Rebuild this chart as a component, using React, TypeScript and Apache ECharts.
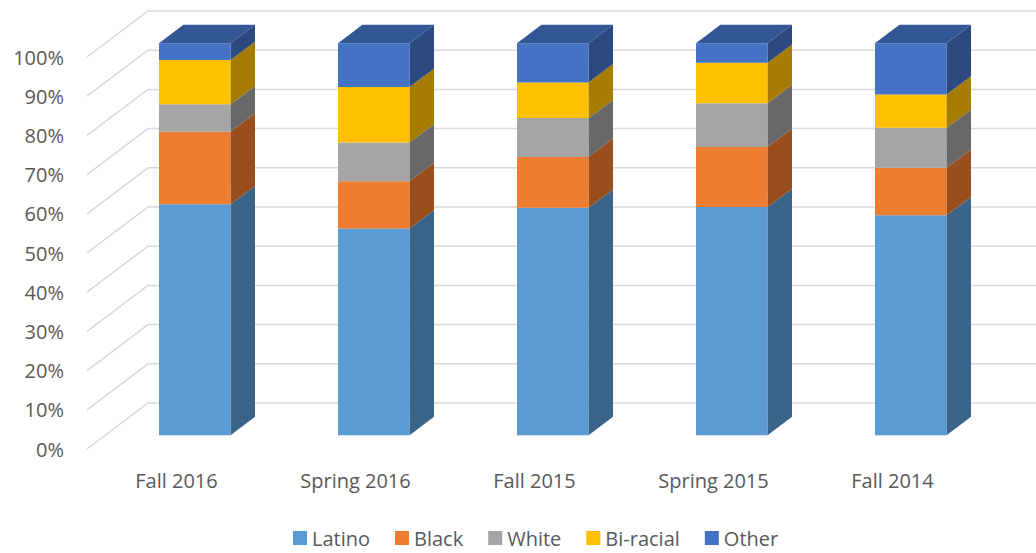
import React, { useEffect, useRef } from "react";
import * as echarts from "echarts";

const categories = ["Fall 2016", "Spring 2016", "Fall 2015", "Spring 2015", "Fall 2014"];
const seriesNames = ["Latino", "Black", "White", "Bi-racial", "Other"];
const latino = [58.9, 52.7, 58.0, 58.2, 56.1];
const black = [18.5, 12.1, 13.0, 15.3, 12.1];
const white = [7.0, 9.9, 9.9, 11.2, 10.2];
const biracial = [11.3, 14.1, 9.1, 10.3, 8.5];
const other = [4.3, 11.2, 10.0, 5.0, 13.1];
const yTicks = [0, 10, 20, 30, 40, 50, 60, 70, 80, 90, 100];

const frontColors = ["#5B9BD5", "#ED7D31", "#A5A5A5", "#FFC000", "#4472C4"];
const sideColors = ["#3A6588", "#9A4E1E", "#686868", "#A67C00", "#2C4A80"];
const topColor = "#335694";

const DEPTH_X = 61;
const DEPTH_Y = 46;
const FRONT = 0.3;
const BAR_DEPTH = 0.4;
const BAR_FRAC = 0.4;
const FONT = "'Open Sans', 'Noto Sans', sans-serif";
const TEXT_COLOR = "#595959";

export default function App() {
  const ref = useRef<HTMLDivElement>(null);

  useEffect(() => {
    if (!ref.current) return;
    const chart = echarts.init(ref.current, undefined, { renderer: "svg" });
    const allValues = [latino, black, white, biracial, other];

    const barSeries = allValues.map((vals, si) => {
      const data = vals.map((v, i) => {
        let base = 0;
        for (let k = 0; k < si; k++) base += allValues[k][i];
        return [i, base, base + v];
      });
      return {
        name: seriesNames[si],
        type: "custom",
        clip: false,
        z: 3,
        itemStyle: { color: frontColors[si] },
        data,
        renderItem: (params: any, api: any) => {
          const i = api.value(0);
          const b = api.value(1);
          const t = api.value(2);
          const p0 = api.coord([i, b]);
          const p1 = api.coord([i, t]);
          const slot = api.size([1, 0])[0];
          const w = slot * BAR_FRAC;
          const cx = p0[0] + DEPTH_X * FRONT;
          const y0 = p0[1] - DEPTH_Y * FRONT;
          const y1 = p1[1] - DEPTH_Y * FRONT;
          const xl = cx - w / 2;
          const xr = cx + w / 2;
          const dx = DEPTH_X * BAR_DEPTH;
          const dy = DEPTH_Y * BAR_DEPTH;
          const children: any[] = [
            {
              type: "rect",
              shape: { x: xl, y: y1, width: w, height: y0 - y1 },
              style: { fill: frontColors[si] },
            },
            {
              type: "polygon",
              shape: { points: [[xr, y0], [xr, y1], [xr + dx, y1 - dy], [xr + dx, y0 - dy]] },
              style: { fill: sideColors[si] },
            },
          ];
          if (si === allValues.length - 1) {
            children.push({
              type: "polygon",
              shape: { points: [[xl, y1], [xr, y1], [xr + dx, y1 - dy], [xl + dx, y1 - dy]] },
              style: { fill: topColor },
            });
          }
          return { type: "group", children };
        },
      };
    });

    const gridSeries = {
      name: "grid",
      type: "custom",
      clip: false,
      z: 1,
      silent: true,
      data: yTicks.map((v) => [0, v]),
      renderItem: (params: any, api: any) => {
        const v = api.value(1);
        const p = api.coord([0, v]);
        const x0 = params.coordSys.x;
        const x1 = params.coordSys.x + params.coordSys.width;
        return {
          type: "polyline",
          shape: {
            points: [
              [x0, p[1]],
              [x0 + DEPTH_X, p[1] - DEPTH_Y],
              [x1 + DEPTH_X, p[1] - DEPTH_Y],
            ],
          },
          style: { stroke: "#D9D9D9", lineWidth: 1.5, fill: "none" },
        };
      },
    };

    chart.setOption({
      animation: false,
      color: frontColors,
      textStyle: { fontFamily: FONT },
      grid: { left: 87, right: 54, top: 57, bottom: 104, containLabel: false },
      legend: {
        data: seriesNames,
        left: 293,
        top: 528,
        padding: 0,
        icon: "rect",
        itemWidth: 14,
        itemHeight: 14,
        itemGap: 25,
        textStyle: { color: TEXT_COLOR, fontSize: 20, lineHeight: 20, fontFamily: FONT },
      },
      xAxis: {
        type: "category",
        data: categories,
        axisLine: { show: false },
        axisTick: { show: false },
        axisLabel: { color: TEXT_COLOR, fontSize: 20, fontFamily: FONT, margin: 21 },
      },
      yAxis: {
        type: "value",
        min: 0,
        max: 100,
        interval: 10,
        axisLine: { show: false },
        axisTick: { show: false },
        splitLine: { show: false },
        axisLabel: {
          color: TEXT_COLOR,
          fontSize: 20,
          fontFamily: FONT,
          margin: 23,
          padding: [6, 0, 0, 0],
          formatter: "{value}%",
        },
      },
      series: [gridSeries, ...barSeries],
    });

    return () => chart.dispose();
  }, []);

  return (
    <div
      ref={ref}
      style={{ position: "fixed", left: 0, top: 0, width: 1036, height: 553, background: "#fff" }}
    />
  );
}
